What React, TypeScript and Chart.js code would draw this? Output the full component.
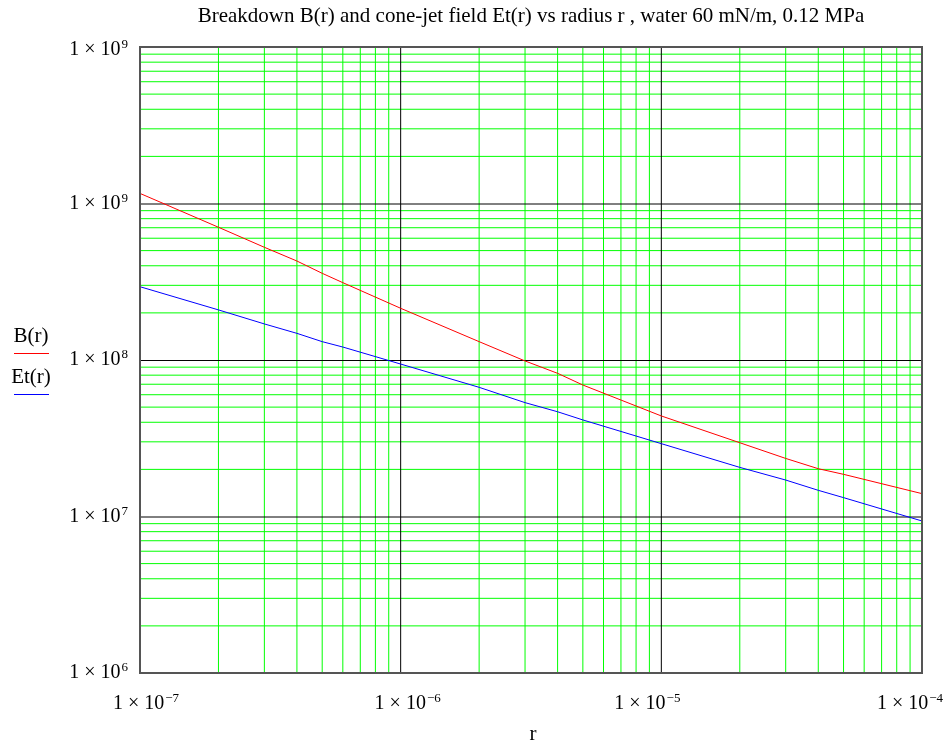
import React, { useEffect, useRef } from "react";
import { Chart, registerables } from "chart.js";

Chart.register(...registerables);

// ---- data ----
const rValues = [1e-7, 2e-7, 3e-7, 4e-7, 5e-7, 6e-7, 1e-6, 2e-6, 3e-6, 4e-6, 5e-6, 1e-5, 2e-5, 3e-5, 4e-5, 5e-5, 1e-4];
const bValues = [1.16e9, 7.05e8, 5.25e8, 4.29e8, 3.58e8, 3.12e8, 2.14e8, 1.31e8, 9.86e7, 8.22e7, 6.92e7, 4.39e7, 2.96e7, 2.35e7, 2.02e7, 1.86e7, 1.4e7];
const etValues = [2.94e8, 2.09e8, 1.7e8, 1.48e8, 1.31e8, 1.21e8, 9.42e7, 6.69e7, 5.34e7, 4.67e7, 4.14e7, 2.92e7, 2.06e7, 1.71e7, 1.47e7, 1.32e7, 9.36e6];

const xTickValues = [1e-7, 1e-6, 1e-5, 1e-4];
const xTickExponents = ["\u22127", "\u22126", "\u22125", "\u22124"];
const yTickValues = [1e10, 1e9, 1e8, 1e7, 1e6];
const yTickExponents = ["9", "9", "8", "7", "6"];

const titleText = "Breakdown B(r) and cone-jet field Et(r) vs radius r , water 60 mN/m, 0.12 MPa";
const xTitleText = "r";
const seriesLabels = ["B(r)", "Et(r)"];
const seriesColors = ["#ff0000", "#0000ff"];

const FONT = '"Liberation Serif", "Times New Roman", serif';
const xLabelShift = [6, 7, -14, -12];

function drawSci(ctx: CanvasRenderingContext2D, exp: string, x: number, baseline: number, align: "left" | "right" | "center") {
  const main = "1 \u00d7 10";
  ctx.font = `20px ${FONT}`;
  const wMain = ctx.measureText(main).width;
  ctx.font = `13px ${FONT}`;
  const wSup = ctx.measureText(exp).width + 1;
  const total = wMain + wSup;
  const left = align === "right" ? x - total : align === "center" ? x - total / 2 : x;
  ctx.textAlign = "left";
  ctx.textBaseline = "alphabetic";
  ctx.fillStyle = "#000";
  ctx.font = `20px ${FONT}`;
  ctx.fillText(main, left, baseline);
  ctx.font = `13px ${FONT}`;
  ctx.fillText(exp, left + wMain + 1, baseline - 7);
}

const overlay = {
  id: "overlay",
  beforeDatasetsDraw(chart: any) {
    const { ctx, chartArea: a, scales } = chart;
    const x = scales.x;
    const y = scales.y;
    ctx.save();
    ctx.lineWidth = 1;
    // minor grid
    ctx.strokeStyle = "#00ff00";
    ctx.beginPath();
    for (let e = -7; e < -4; e++) {
      for (let k = 2; k <= 9; k++) {
        const px = x.getPixelForValue(k * Math.pow(10, e));
        ctx.moveTo(px, a.top);
        ctx.lineTo(px, a.bottom);
      }
    }
    for (let e = 6; e < 10; e++) {
      for (let k = 2; k <= 9; k++) {
        const py = y.getPixelForValue(k * Math.pow(10, e));
        ctx.moveTo(a.left, py);
        ctx.lineTo(a.right, py);
      }
    }
    ctx.stroke();
    // major grid
    ctx.strokeStyle = "#000000";
    ctx.beginPath();
    for (const v of xTickValues) {
      const px = x.getPixelForValue(v);
      ctx.moveTo(px, a.top);
      ctx.lineTo(px, a.bottom);
    }
    for (const v of yTickValues) {
      const py = y.getPixelForValue(v) + 0.5;
      ctx.moveTo(a.left, py);
      ctx.lineTo(a.right, py);
    }
    ctx.stroke();
    ctx.restore();
  },
  afterDraw(chart: any) {
    const { ctx, chartArea: a, scales } = chart;
    const x = scales.x;
    const y = scales.y;
    ctx.save();
    // border
    ctx.strokeStyle = "#555555";
    ctx.lineWidth = 2;
    ctx.strokeRect(a.left, a.top, a.right - a.left, a.bottom - a.top);

    // y tick labels
    yTickValues.forEach((v, i) => {
      const py = y.getPixelForValue(v);
      const baseline = Math.max(py + 5, a.top + 8);
      drawSci(ctx, yTickExponents[i], a.left - 12, baseline, "right");
    });
    // x tick labels
    xTickValues.forEach((v, i) => {
      const px = x.getPixelForValue(v);
      drawSci(ctx, xTickExponents[i], px + xLabelShift[i], a.bottom + 36, "center");
    });

    ctx.fillStyle = "#000";
    ctx.textAlign = "center";
    ctx.textBaseline = "alphabetic";
    // title
    ctx.font = `21px ${FONT}`;
    ctx.fillText(titleText, (a.left + a.right) / 2, 22);
    // x title
    ctx.fillText(xTitleText, (a.left + a.right) / 2 + 2, 740);

    // legend on the left
    const legendY = [342, 383];
    seriesLabels.forEach((lab, i) => {
      ctx.fillStyle = "#000";
      ctx.font = `21px ${FONT}`;
      ctx.fillText(lab, 31, legendY[i]);
      ctx.strokeStyle = seriesColors[i];
      ctx.lineWidth = 1;
      ctx.beginPath();
      ctx.moveTo(14, legendY[i] + 11.5);
      ctx.lineTo(49, legendY[i] + 11.5);
      ctx.stroke();
    });
    ctx.restore();
  },
};

export default function App() {
  const ref = useRef<HTMLCanvasElement>(null);
  useEffect(() => {
    const chart = new Chart(ref.current as HTMLCanvasElement, {
      type: "line",
      data: {
        datasets: [
          {
            label: seriesLabels[0],
            data: rValues.map((r, i) => ({ x: r, y: bValues[i] })),
            borderColor: seriesColors[0],
            borderWidth: 1,
            pointRadius: 0,
            tension: 0,
            fill: false,
          },
          {
            label: seriesLabels[1],
            data: rValues.map((r, i) => ({ x: r, y: etValues[i] })),
            borderColor: seriesColors[1],
            borderWidth: 1,
            pointRadius: 0,
            tension: 0,
            fill: false,
          },
        ],
      },
      options: {
        responsive: false,
        maintainAspectRatio: false,
        animation: false,
        devicePixelRatio: 1,
        layout: { padding: { left: 140, right: 26, top: 47, bottom: 71 } },
        plugins: {
          legend: { display: false },
          tooltip: { enabled: false },
          title: { display: false },
        },
        scales: {
          x: {
            type: "logarithmic",
            min: 1e-7,
            max: 1e-4,
            grid: { display: false, drawTicks: false },
            ticks: { display: false },
            border: { display: false },
            title: { display: false },
          },
          y: {
            type: "logarithmic",
            min: 1e6,
            max: 1e10,
            grid: { display: false, drawTicks: false },
            ticks: { display: false },
            border: { display: false },
            title: { display: false },
          },
        },
      },
      plugins: [overlay],
    } as any);
    return () => chart.destroy();
  }, []);
  return (
    <div style={{ position: "absolute", left: 0, top: 0, width: 948, height: 744, background: "#fff" }}>
      <canvas ref={ref} width={948} height={744} style={{ display: "block", width: 948, height: 744 }} />
    </div>
  );
}
